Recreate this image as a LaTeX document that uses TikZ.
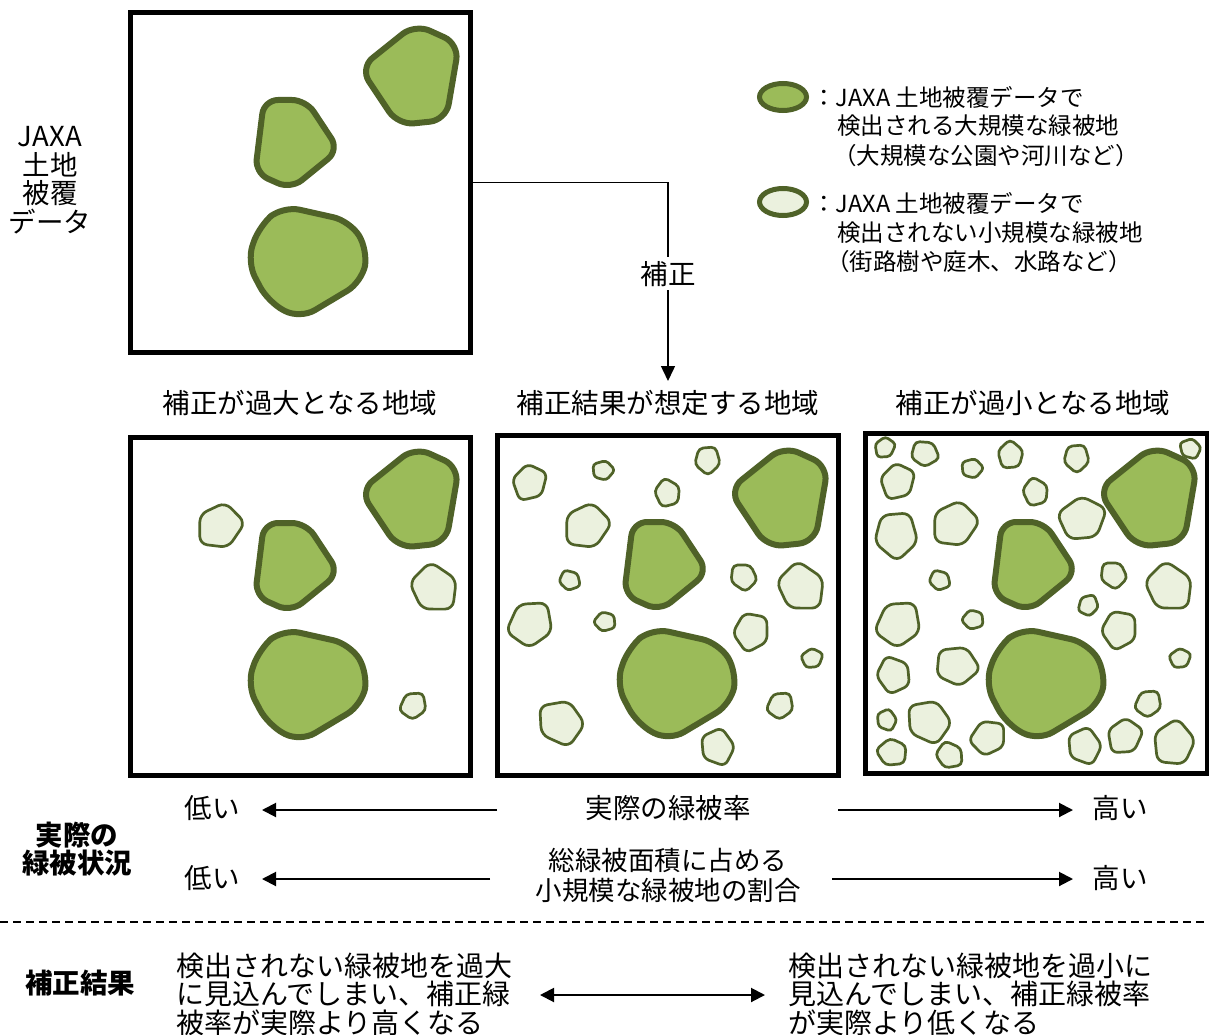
\documentclass[tikz,border=0pt]{standalone}
\usepackage{fontspec}
\setmainfont{Noto Sans CJK JP}
\usetikzlibrary{arrows.meta,shapes.geometric}
\definecolor{bigfill}{HTML}{9BBB59}
\definecolor{blobline}{HTML}{4F6228}
\definecolor{smallfill}{HTML}{EBF1DE}
\newcommand\smallblob[4]{%
  \pgfmathsetmacro\rcval{0.34*#3}%
  \draw[sblob, rounded corners=\rcval pt, shift={(#1,#2)}, rotate=#4]
    (0:{1.16*#3}) -- (78:{1.0*#3}) -- (150:{1.2*#3}) -- (222:{1.08*#3}) -- (292:{1.14*#3}) -- cycle;}
\newcommand\bigblobs{%
  \draw[bblob, rounded corners=16pt] (360,68) -- (415,24) -- (459,44) -- (446,120) -- (398,125) -- cycle;
  \draw[bblob, rounded corners=14pt] (264,100) -- (306,100) -- (339,150) -- (291,189) -- (255,173) -- cycle;
  \draw[bblob, rounded corners=17pt] (283,206) -- (350,221) -- (368,250) -- (362,282) -- (300,319) -- (268,302) -- (247,262) -- (259,226) -- cycle;}
\tikzset{
  frame/.style={draw=black, line width=5pt, fill=white, inner sep=0pt},
  bblob/.style={draw=blobline, fill=bigfill, line width=6pt, line join=round},
  sblob/.style={draw=blobline, fill=smallfill, line width=2.7pt, line join=round},
  txt/.style={inner sep=0pt, font=\fontsize{27.5}{29}\selectfont},
  ltxt/.style={inner sep=0pt, anchor=west, font=\fontsize{23.5}{29}\selectfont},
  btxt/.style={inner sep=0pt, align=center, font=\fontsize{27.5}{28.5}\selectfont\bfseries},
  rowarr/.style={line width=2pt, -{Triangle[length=14pt,width=14pt]}},
}
\begin{document}
\begin{tikzpicture}[x=1pt,y=-1pt]
\useasboundingbox[fill=white] (0,0) rectangle (1209,1035);

% boxes
\node[frame, minimum width=340pt, minimum height=339pt] (topbox) at (300,182.5) {};
\node[frame, minimum width=340pt, minimum height=338pt] (boxL) at (300,606) {};
\node[frame, minimum width=341pt, minimum height=340pt] (boxM) at (667.5,605) {};
\node[frame, minimum width=342pt, minimum height=340pt] (boxR) at (1036,603) {};

% big blobs
\bigblobs
\begin{scope}[shift={(0,423)}]\bigblobs\end{scope}
\begin{scope}[shift={(369,422)}]\bigblobs\end{scope}
\begin{scope}[shift={(738,422)}]\bigblobs\end{scope}

% small blobs, left box
\smallblob{220}{527}{22}{10}
\smallblob{435}{588}{23}{100}
\smallblob{413}{705}{13}{200}
% middle box
\smallblob{530}{483}{17}{30}
\smallblob{603}{470}{10}{150}
\smallblob{708}{460}{13}{60}
\smallblob{667}{493}{13}{250}
\smallblob{587}{527}{22}{10}
\smallblob{570}{580}{10}{120}
\smallblob{743}{577}{13}{280}
\smallblob{802}{587}{23}{100}
\smallblob{530}{623}{22}{200}
\smallblob{605}{622}{10}{330}
\smallblob{752}{632}{18}{45}
\smallblob{812}{658}{10}{170}
\smallblob{780}{705}{13}{200}
\smallblob{560}{723}{22}{290}
\smallblob{718}{747}{17}{80}
% right box
\smallblob{885}{448}{10}{20}
\smallblob{925}{453}{13}{130}
\smallblob{972}{468}{10}{150}
\smallblob{1010}{455}{13}{240}
\smallblob{1077}{458}{13}{60}
\smallblob{1190}{449}{10}{300}
\smallblob{898}{482}{17}{30}
\smallblob{1035}{492}{13}{250}
\smallblob{1082}{518}{22}{170}
\smallblob{897}{535}{22}{60}
\smallblob{955}{525}{22}{10}
\smallblob{940}{580}{10}{120}
\smallblob{1113}{575}{13}{280}
\smallblob{1170}{587}{23}{100}
\smallblob{1088}{605}{10}{210}
\smallblob{898}{623}{22}{200}
\smallblob{973}{620}{10}{330}
\smallblob{1120}{630}{18}{45}
\smallblob{1180}{658}{10}{170}
\smallblob{957}{665}{20}{140}
\smallblob{893}{675}{17}{260}
\smallblob{1148}{703}{13}{200}
\smallblob{887}{720}{10}{80}
\smallblob{928}{722}{21}{290}
\smallblob{988}{737}{17}{190}
\smallblob{892}{753}{14}{320}
\smallblob{950}{755}{13}{110}
\smallblob{1085}{746}{17}{80}
\smallblob{1125}{737}{17}{20}
\smallblob{1173}{743}{21}{230}

% left label
\node[txt, align=center, font=\fontsize{27.5}{28.5}\selectfont] (jaxa) at (50,180) {JAXA\\土地\\被覆\\データ};

% titles
\node[txt] (title1) at (300,403) {補正が過大となる地域};
\node[txt] (title2) at (668,403) {補正結果が想定する地域};
\node[txt] (title3) at (1033,403) {補正が過小となる地域};

% correction connector
\draw[line width=1.5pt, -{Triangle[length=15pt,width=14pt]}, shorten >=9pt]
  (topbox.east) -| node[pos=0.72, fill=white, inner sep=4pt, font=\fontsize{27.5}{29}\selectfont] (hosei) {補正} (title2.north);

% legend
\node[ellipse, draw=blobline, fill=bigfill, line width=5pt, minimum width=47pt, minimum height=27pt, inner sep=0pt] (legbig) at (783,97) {};
\node[ellipse, draw=blobline, fill=smallfill, line width=5pt, minimum width=47pt, minimum height=27pt, inner sep=0pt] (legsmall) at (783,202) {};
\node[ltxt] (leg1a) at (812,97) {：JAXA 土地被覆データで};
\node[ltxt] (leg1b) at (837,126) {検出される大規模な緑被地};
\node[ltxt] (leg1c) at (833,156) {（大規模な公園や河川など）};
\node[ltxt] (leg2a) at (812,203) {：JAXA 土地被覆データで};
\node[ltxt] (leg2b) at (837,233) {検出されない小規模な緑被地};
\node[ltxt] (leg2c) at (826,262) {（街路樹や庭木、水路など）};

% actual green status
\node[btxt] (actual) at (77,849) {実際の\\緑被状況};
\node[txt] (low1) at (212,808) {低い};
\node[txt] (rate) at (668,808) {実際の緑被率};
\node[txt] (high1) at (1120,808) {高い};
\node[txt] (low2) at (212,878) {低い};
\node[txt, align=center, font=\fontsize{26.5}{30}\selectfont] (share) at (668,875) {総緑被面積に占める\\小規模な緑被地の割合};
\node[txt] (high2) at (1120,878) {高い};
\coordinate (a1s) at (497,810); \coordinate (a1e) at (262,810);
\coordinate (a2s) at (838,810); \coordinate (a2e) at (1073,810);
\coordinate (a3s) at (490,879); \coordinate (a3e) at (262,879);
\coordinate (a4s) at (832,879); \coordinate (a4e) at (1073,879);
\draw[rowarr] (a1s) -- (a1e);
\draw[rowarr] (a2s) -- (a2e);
\draw[rowarr] (a3s) -- (a3e);
\draw[rowarr] (a4s) -- (a4e);

% dashed separator
\coordinate (dl) at (0,922); \coordinate (dr) at (1209,922);
\draw[line width=2pt, dash pattern=on 8pt off 5pt] (dl) -- (dr);

% correction result
\node[btxt] (result) at (80,983) {補正結果};
\node[txt, anchor=west, align=left, font=\fontsize{28}{28.5}\selectfont] (resL) at (176,994) {検出されない緑被地を過大\\に見込んでしまい、補正緑\\被率が実際より高くなる};
\node[txt, anchor=west, align=left, font=\fontsize{28}{28.5}\selectfont] (resR) at (788,994) {検出されない緑被地を過小に\\見込んでしまい、補正緑被率\\が実際より低くなる};
\coordinate (dbl) at (540,995); \coordinate (dbr) at (765,995);
\draw[line width=2pt, {Triangle[length=14pt,width=14pt]}-{Triangle[length=14pt,width=14pt]}] (dbl) -- (dbr);
\end{tikzpicture}
\end{document}
